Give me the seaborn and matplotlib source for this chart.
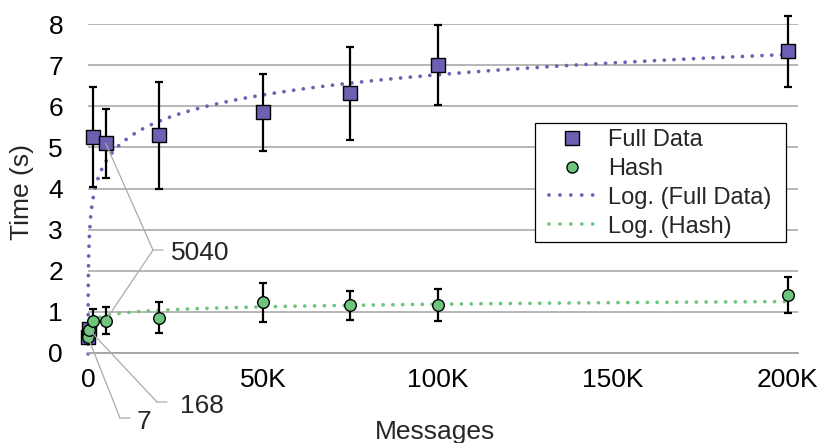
import numpy as np
import pandas as pd
import matplotlib
matplotlib.use("Agg")
import matplotlib.pyplot as plt
import seaborn as sns
from matplotlib.lines import Line2D
from matplotlib.patches import Rectangle

# ---------------- data ----------------
messages = [7, 168, 1440, 5040, 20160, 50000, 75000, 100000, 200000]
full_time = [0.38, 0.58, 5.25, 5.10, 5.29, 5.85, 6.32, 7.00, 7.34]
full_err = [0.08, 0.08, 1.21, 0.84, 1.29, 0.93, 1.13, 0.98, 0.86]
hash_time = [0.40, 0.56, 0.77, 0.79, 0.86, 1.23, 1.16, 1.17, 1.41]
hash_err = [0.05, 0.05, 0.30, 0.34, 0.37, 0.48, 0.35, 0.38, 0.44]
x_ticks = [0, 50000, 100000, 150000, 200000]
x_tick_labels = ["0", "50K", "100K", "150K", "200K"]
y_ticks = [0, 1, 2, 3, 4, 5, 6, 7, 8]
series_names = ["Full Data", "Hash", "Log. (Full Data)", "Log. (Hash)"]
point_labels = ["7", "168", "5040"]

# ---------------- style ----------------
sns.set_theme(style="white")
plt.rcParams["font.family"] = ["Liberation Sans", "DejaVu Sans"]

purple = "#6E5FB2"
green = "#6DC67B"
gray = "#A3A3A3"
leader = "#ABABAB"

fig = plt.figure(figsize=(8.25, 4.43), dpi=100)
W, H = 825, 443
ax = fig.add_axes([88 / W, 1 - 353 / H, 710 / W, 329 / H])

# log trend lines (least squares on ln x, as a spreadsheet does)
xs = np.geomspace(min(messages), max(messages), 800)
cf = np.polyfit(np.log(messages), full_time, 1)
ch = np.polyfit(np.log(messages), hash_time, 1)
trend = pd.DataFrame({"x": xs,
                      "full": cf[0] * np.log(xs) + cf[1],
                      "hash": ch[0] * np.log(xs) + ch[1]})
dot = (0, (0.01, 2.6))
sns.lineplot(data=trend, x="x", y="full", ax=ax, color=purple, lw=2.7,
             linestyle=dot, dash_capstyle="round", estimator=None, sort=True,
             zorder=2, clip_on=False)
sns.lineplot(data=trend, x="x", y="hash", ax=ax, color=green, lw=2.7,
             linestyle=dot, dash_capstyle="round", estimator=None, sort=True,
             zorder=2, clip_on=False)

# error bars
ax.errorbar(messages, full_time, yerr=full_err, fmt="none", ecolor="black",
            elinewidth=1.6, capsize=3, capthick=1.6, zorder=3, clip_on=False)
ax.errorbar(messages, hash_time, yerr=hash_err, fmt="none", ecolor="black",
            elinewidth=1.6, capsize=3, capthick=1.6, zorder=3, clip_on=False)

# markers
sns.scatterplot(x=messages, y=full_time, ax=ax, marker="s", s=110,
                color=purple, edgecolor="black", linewidth=1.0, zorder=4,
                clip_on=False)
sns.scatterplot(x=messages, y=hash_time, ax=ax, marker="o", s=70,
                color=green, edgecolor="black", linewidth=1.0, zorder=5,
                clip_on=False)

# axes
ax.set_xlim(0, 203000)
ax.set_ylim(0, 8)
ax.set_xticks(x_ticks)
ax.set_xticklabels(x_tick_labels)
ax.set_xticks(np.arange(0, 200001, 10000), minor=True)
ax.set_yticks(y_ticks)
ax.set_yticklabels([str(v) for v in y_ticks])
ax.yaxis.grid(True, color=gray, lw=1.1)
ax.set_axisbelow(True)
for s in ["left", "right", "top"]:
    ax.spines[s].set_visible(False)
ax.spines["bottom"].set_color(gray)
ax.spines["bottom"].set_linewidth(1.3)
ax.tick_params(axis="x", which="major", direction="inout", length=12,
               width=1.3, color=gray, labelsize=19, pad=5, labelcolor="black")
ax.tick_params(axis="x", which="minor", direction="in", length=4.5,
               width=1.0, color=gray)
ax.tick_params(axis="y", length=0, labelsize=19, pad=18, labelcolor="black")
ax.set_xlabel("")
ax.set_ylabel("")
ax.text(0.489, -0.261, "Messages", transform=ax.transAxes, ha="center",
        va="baseline", fontsize=19)
ax.text(-0.0923, 0.489, "Time (s)", transform=ax.transAxes, ha="center",
        va="center", rotation=90, fontsize=19)

# data labels with leader lines (figure pixel positions)
label_specs = [
    (point_labels[0], [(messages[0], full_time[0])], (120, 25), (137, 14)),
    (point_labels[1], [(messages[1], full_time[1])], (157, 41), (180, 30)),
    (point_labels[2], [(messages[3], full_time[3]), (messages[3], hash_time[3])],
     (153, 193), (171, 183)),
]
for txt, targets, elbow, tpos in label_specs:
    for tx, ty in targets:
        ax.annotate("", xy=(tx, ty), xycoords="data", xytext=elbow,
                    textcoords="figure pixels",
                    arrowprops=dict(arrowstyle="-", color=leader, lw=0.9,
                                    shrinkA=0, shrinkB=0),
                    zorder=6, annotation_clip=False)
    ax.annotate("", xy=(elbow[0] + 10, elbow[1]), xycoords="figure pixels",
                xytext=elbow, textcoords="figure pixels",
                arrowprops=dict(arrowstyle="-", color=leader, lw=0.9,
                                shrinkA=0, shrinkB=0), zorder=6,
                annotation_clip=False)
    ax.annotate(txt, xy=tpos, xycoords="figure pixels", ha="left",
                va="baseline", fontsize=19, annotation_clip=False)

# legend
frame = Rectangle((535 / W, 1 - 241.7 / H), 251 / W, 119 / H,
                  transform=fig.transFigure, facecolor="white",
                  edgecolor="black", lw=0.9, zorder=7, clip_on=False)
ax.add_patch(frame)
handles = [
    Line2D([], [], marker="s", ls="none", markerfacecolor=purple,
           markeredgecolor="black", markeredgewidth=1.0, markersize=9.5),
    Line2D([], [], marker="o", ls="none", markerfacecolor=green,
           markeredgecolor="black", markeredgewidth=1.0, markersize=8),
    Line2D([], [], color=purple, lw=2.7, linestyle=(0, (0.01, 2.9)),
           dash_capstyle="round"),
    Line2D([], [], color=green, lw=2.7, linestyle=(0, (0.01, 2.9)),
           dash_capstyle="round"),
]
leg = ax.legend(handles, series_names, loc="upper left",
                bbox_to_anchor=(549 / W, 1 - 129 / H),
                bbox_transform=fig.transFigure, frameon=False,
                fontsize=17, handlelength=1.95, handletextpad=0.55,
                labelspacing=0.29, borderpad=0, borderaxespad=0)
leg.set_zorder(8)

fig.savefig("out.png", dpi=100)
